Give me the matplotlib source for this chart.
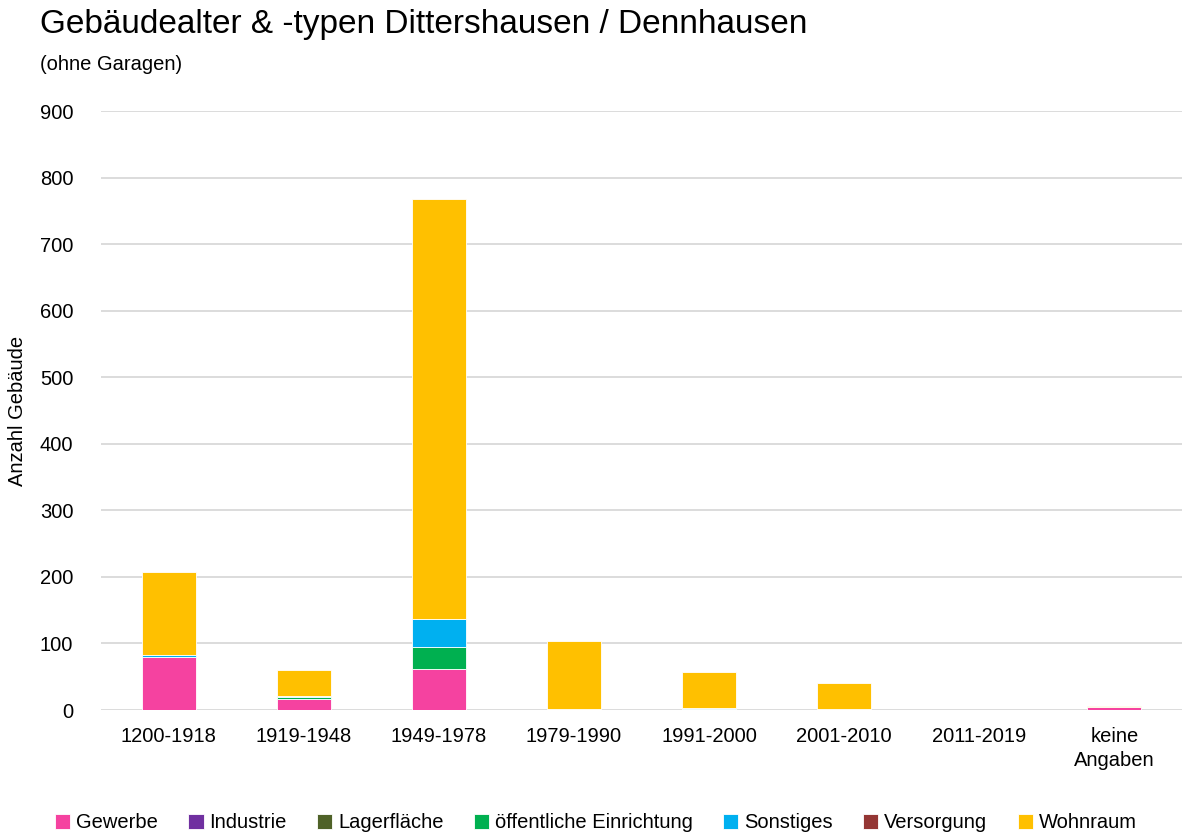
import matplotlib.pyplot as plt
import numpy as np

# ── Data ──────────────────────────────────────────────────────────────────────
categories = ["1200-1918", "1919-1948", "1949-1978", "1979-1990",
              "1991-2000", "2001-2010", "2011-2019", "keine\nAngaben"]

gewerbe      = [79, 16, 61, 0, 1, 0, 0, 4]
industrie    = [0, 0, 0, 0, 0, 0, 0, 0]
lagerflaeche = [0, 0, 0, 0, 0, 0, 0, 0]
oeffentlich  = [0, 3, 34, 0, 0, 0, 0, 0]
sonstiges    = [3, 2, 42, 2, 2, 1, 0, 0]
versorgung   = [0, 0, 0, 0, 0, 0, 0, 0]
wohnraum     = [125, 39, 631, 102, 54, 39, 0, 2]

series = [
    ("Gewerbe", gewerbe, "#F542A0"),
    ("Industrie", industrie, "#7030A0"),
    ("Lagerfläche", lagerflaeche, "#4F6228"),
    ("öffentliche Einrichtung", oeffentlich, "#00B050"),
    ("Sonstiges", sonstiges, "#00B0F0"),
    ("Versorgung", versorgung, "#943634"),
    ("Wohnraum", wohnraum, "#FFC000"),
]

plt.rcParams["font.family"] = ["Liberation Sans", "DejaVu Sans"]

TEXT = "#000000"
GRID = "#D9D9D9"

# ── Plot ──────────────────────────────────────────────────────────────────────
fig = plt.figure(figsize=(11.82, 8.35), dpi=100)
ax = fig.add_axes([101 / 1182, 1 - 710 / 835, 1081 / 1182, 599 / 835])

x = np.arange(len(categories))
bottom = np.zeros(len(categories))
for label, vals, color in series:
    vals = np.array(vals, dtype=float)
    ax.bar(x, vals, bottom=bottom, width=0.4, color=color, label=label,
           edgecolor="white", linewidth=0.6, zorder=3)
    bottom += vals

ax.set_xlim(-0.5, len(categories) - 0.5)
ax.set_ylim(0, 900)
ax.set_yticks(np.arange(0, 901, 100))
ax.yaxis.grid(True, color=GRID, linewidth=1.3, zorder=0)
ax.set_axisbelow(True)
for s in ax.spines.values():
    s.set_visible(False)
ax.tick_params(axis="both", length=0, labelsize=14.5, colors=TEXT)
ax.tick_params(axis="y", pad=20)
ax.tick_params(axis="x", pad=12)
ax.set_xticks(x)
ax.set_xticklabels(categories, linespacing=1.35)
ax.set_ylabel("Anzahl Gebäude", fontsize=14.5, color=TEXT)
ax.yaxis.set_label_coords(-74 / 1081, 0.5)

fig.text(40 / 1182, 1 - 25 / 835, "Gebäudealter & -typen Dittershausen / Dennhausen",
         fontsize=24, color=TEXT, va="center", ha="left")
fig.text(40 / 1182, 1 - 64 / 835, "(ohne Garagen)",
         fontsize=14.5, color=TEXT, va="center", ha="left")

fig.legend(loc="center", bbox_to_anchor=(596 / 1182, 1 - 823 / 835), ncol=7,
           frameon=False, fontsize=14.5, handlelength=0.75, handleheight=0.75,
           handletextpad=0.3, columnspacing=1.5)

fig.savefig("out.png", dpi=100, facecolor="white")
